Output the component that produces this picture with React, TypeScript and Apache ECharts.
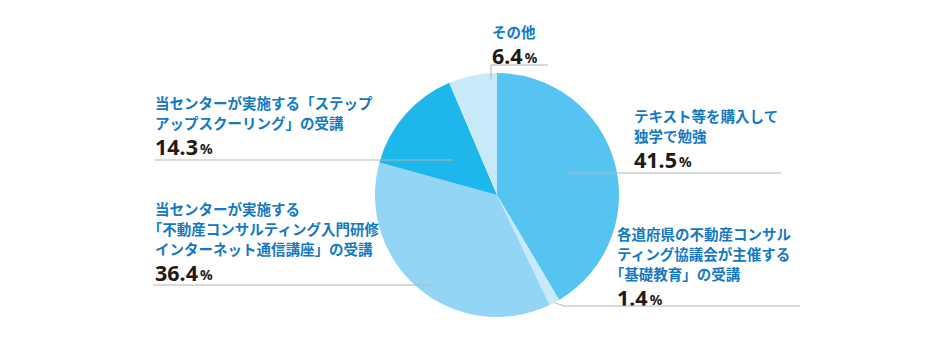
import React, { useEffect, useRef } from "react";
import * as echarts from "echarts";

const categories: string[][] = [
  ["テキスト等を購入して", "独学で勉強"],
  ["各道府県の不動産コンサル", "ティング協議会が主催する", "｢基礎教育」の受講"],
  ["当センターが実施する", "｢不動産コンサルティング入門研修", "インターネット通信講座」の受講"],
  ["当センターが実施する「ステップ", "アップスクーリング」の受講"],
  ["その他"],
];
const values: number[] = [41.5, 1.4, 36.4, 14.3, 6.4];
const colors: string[] = ["#55c4f1", "#c8e9f8", "#92d5f5", "#1db7ec", "#c8e9f8"];

const CX = 497;
const CY = 195;
const R = 122;

// label placement (pixel positions of label boxes and guide lines)
const labelPos = [
  { x: 634, y: 105, line: [[565, 173], [781, 173]] },
  { x: 617, y: 223, line: null },
  { x: 155, y: 198, line: [[430, 285], [153, 285]] },
  { x: 155, y: 92, line: [[453, 160], [155, 160]] },
  { x: 492, y: 21, line: [[491, 79], [491, 65], [548, 65]] },
];

export default function App() {
  const ref = useRef<HTMLDivElement>(null);
  useEffect(() => {
    document.body.style.margin = "0";
    const chart = echarts.init(ref.current!, null, { renderer: "svg" });
    const total = values.reduce((a, b) => a + b, 0);
    const data = values.map((v, i) => ({
      value: v,
      name: categories[i].join(""),
      itemStyle: { color: colors[i] },
      label: {
        formatter:
          categories[i].map((l) => `{n|${l}}`).join("\n") +
          `\n{v|${v.toFixed(1)}}{p|%}`,
      },
    }));
    // guide lines
    const lines = labelPos.map((L, i) => {
      let pts = L.line as number[][] | null;
      if (!pts) {
        let cum = 0;
        for (let k = 0; k < i; k++) cum += values[k];
        const mid = ((cum + values[i] / 2) / total) * Math.PI * 2;
        const p0 = [CX + R * Math.sin(mid), CY - R * Math.cos(mid)];
        pts = [p0, [p0[0] + 10, 306], [800, 306]];
      }
      return {
        type: "polyline",
        z: 100,
        shape: { points: pts },
        style: { stroke: "#b4b4b4", lineWidth: 1, fill: null },
        silent: true,
      };
    });
    chart.setOption({
      animation: false,
      graphic: lines,
      series: [
        {
          type: "pie",
          center: [CX, CY],
          radius: R,
          startAngle: 90,
          clockwise: true,
          avoidLabelOverlap: false,
          data,
          label: {
            show: true,
            position: "outside",
            align: "left",
            rich: {
              n: {
                fontFamily: "'Noto Sans CJK JP', 'Noto Sans', sans-serif",
                fontWeight: "bold",
                fontSize: 14.5,
                lineHeight: 20,
                color: "#1479c2",
              },
              v: {
                fontFamily: "'Noto Sans', sans-serif",
                fontWeight: "bold",
                fontSize: 21.5,
                lineHeight: 28,
                color: "#231815",
              },
              p: {
                fontFamily: "'Noto Sans', sans-serif",
                fontWeight: "bold",
                fontSize: 14,
                lineHeight: 28,
                color: "#231815",
                verticalAlign: "bottom",
                padding: [0, 0, 5, 2],
              },
            },
          },
          labelLine: { show: false },
          labelLayout: (params: any) => {
            const L = labelPos[params.dataIndex];
            return { x: L.x, y: L.y, align: "left", verticalAlign: "top" };
          },
        },
      ],
    });
    return () => chart.dispose();
  }, []);
  return <div ref={ref} style={{ width: 945, height: 345 }} />;
}
